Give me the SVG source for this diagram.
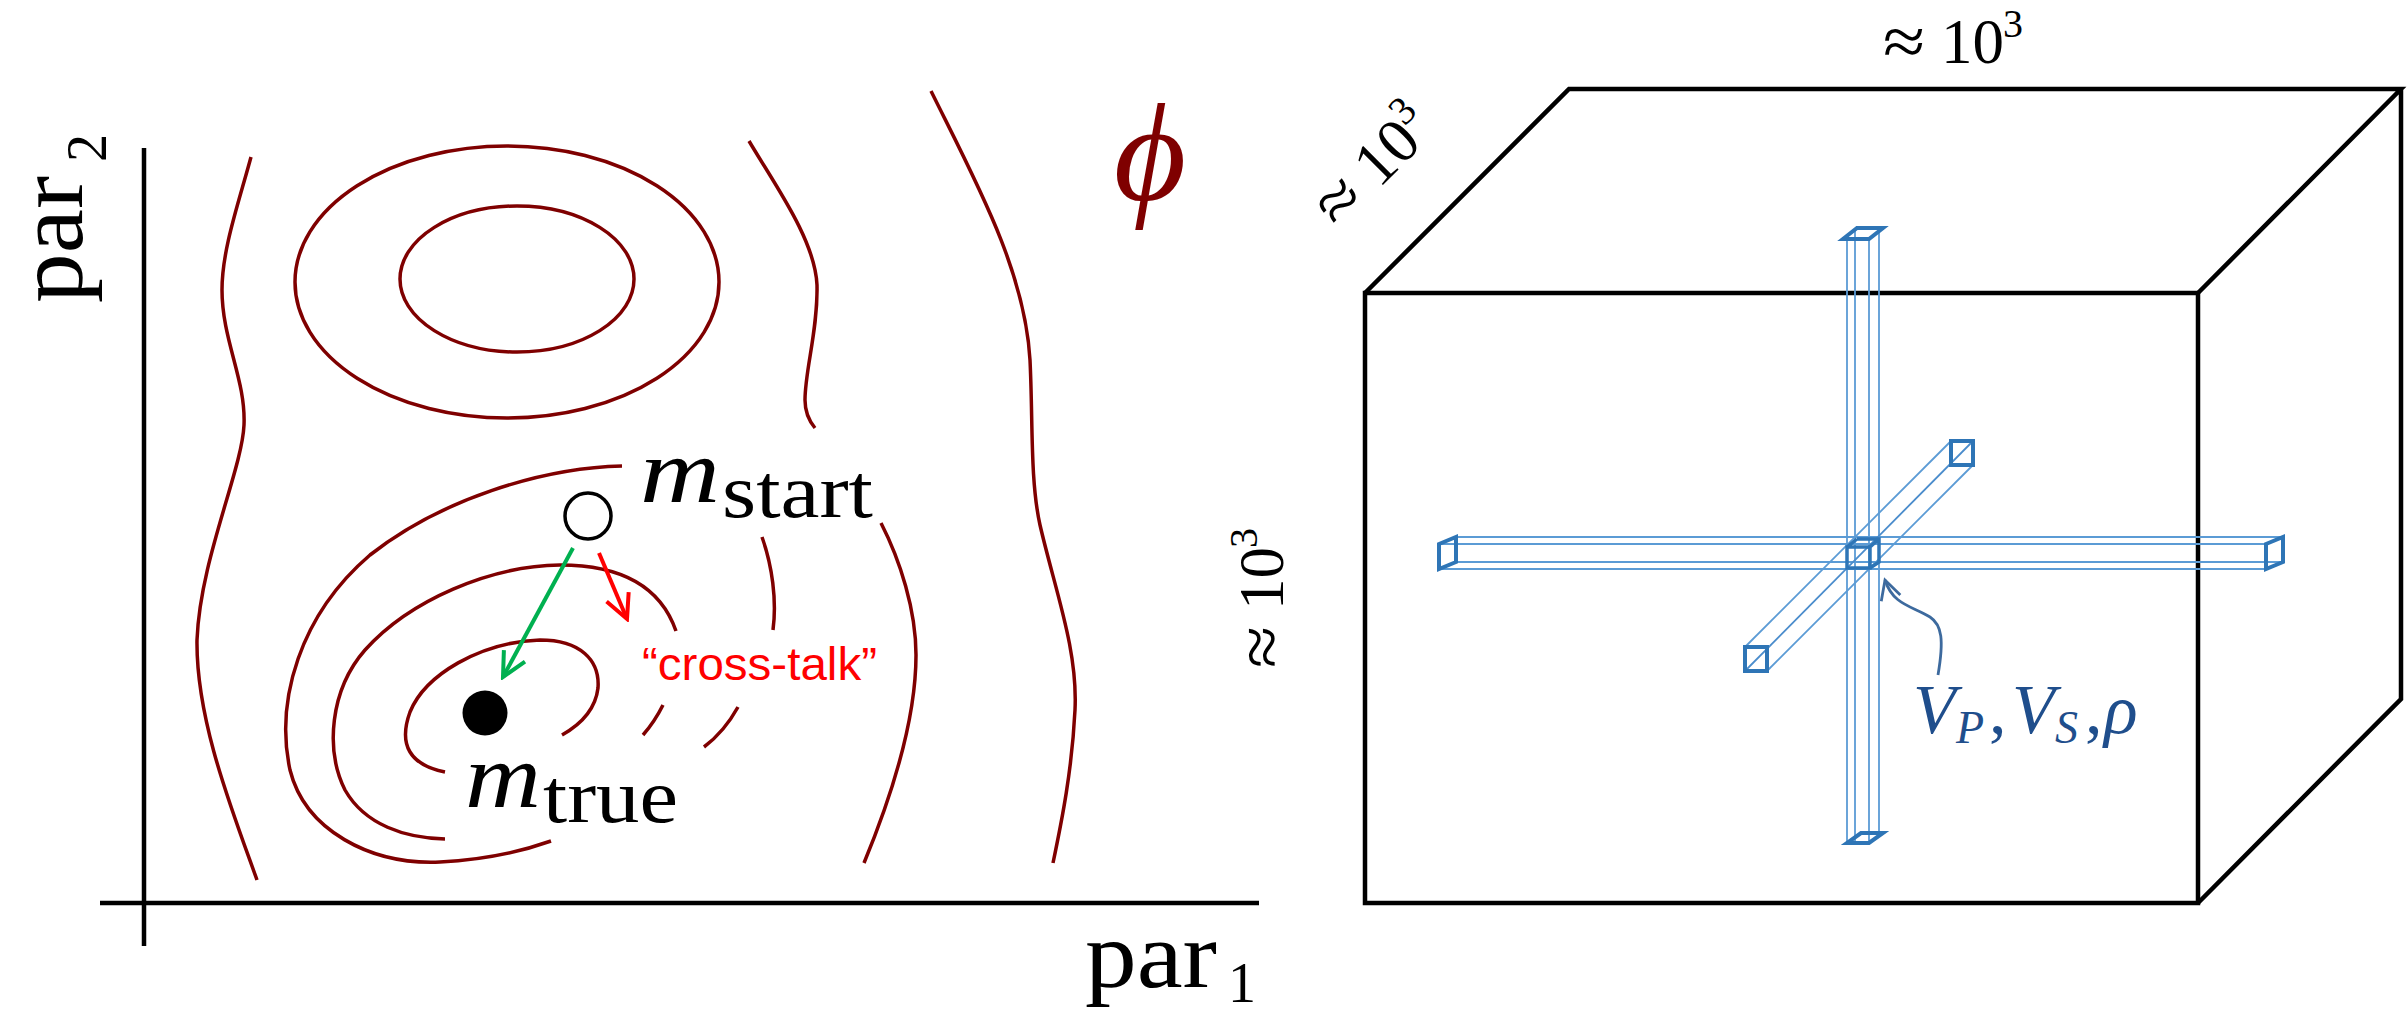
<svg xmlns="http://www.w3.org/2000/svg" width="2407" height="1015" viewBox="0 0 2407 1015">
<style>
.bg{fill:#ffffff}
.axis{stroke:#000;stroke-width:4.5;fill:none}
.contour{stroke:#7f0000;stroke-width:3.5;fill:none;stroke-linecap:butt}
.box{stroke:#000;stroke-width:4.5;fill:none;stroke-linejoin:miter}
.thin{stroke:#5b9bd5;stroke-width:1.8;fill:none}
.cap{stroke:#2e75b6;stroke-width:4;fill:none;stroke-linejoin:miter}
.serif{font-family:"Liberation Serif","DejaVu Serif",serif;fill:#000}
.it{font-style:italic}
.sans{font-family:"Liberation Sans",Arial,sans-serif}
</style>
<defs>
<marker id="headGreen" markerUnits="userSpaceOnUse" markerWidth="30" markerHeight="30" viewBox="0 0 30 30" refX="27" refY="15" orient="auto">
<path d="M3,3 L27,15 L3,27" fill="none" stroke="#00b050" stroke-width="4"/>
</marker>
<marker id="headRed" markerUnits="userSpaceOnUse" markerWidth="30" markerHeight="30" viewBox="0 0 30 30" refX="27" refY="15" orient="auto">
<path d="M3,3 L27,15 L3,27" fill="none" stroke="#ff0000" stroke-width="4"/>
</marker>
<marker id="headBlue" markerUnits="userSpaceOnUse" markerWidth="26" markerHeight="26" viewBox="0 0 26 26" refX="23" refY="13" orient="auto">
<path d="M4,3 L23,13 L4,23" fill="none" stroke="#3d6a9e" stroke-width="2.8"/>
</marker>
<g id="dimLabel">
<text class="serif" x="0" y="2" font-size="70" textLength="42" lengthAdjust="spacingAndGlyphs">≈</text>
<text class="serif" x="58" y="0" font-size="63">10</text>
<text class="serif" x="120" y="-26" font-size="40">3</text>
</g>
</defs>
<rect class="bg" x="0" y="0" width="2407" height="1015"/>

<g id="axes">
<line class="axis" x1="144" y1="148" x2="144" y2="946"/>
<line class="axis" x1="100" y1="903" x2="1259" y2="903"/>
</g>

<g id="axis-labels">
<g id="label-par2" transform="translate(82,303) rotate(-90)">
<text class="serif" x="0" y="0" font-size="96" textLength="127" lengthAdjust="spacingAndGlyphs">par</text>
<text class="serif" x="141" y="24" font-size="56">2</text>
</g>
<g id="label-par1">
<text class="serif" x="1085" y="987" font-size="96" textLength="132" lengthAdjust="spacingAndGlyphs">par</text>
<text class="serif" x="1228" y="1002" font-size="56">1</text>
</g>
</g>

<g id="contours">
<path class="contour" d="M251,157 C238,205 222,250 222,290 C222,340 246,380 244,425 C242,470 200,560 197,640 C196,720 232,810 257,880"/>
<ellipse class="contour" cx="507" cy="282" rx="212" ry="136"/>
<ellipse class="contour" cx="517" cy="279" rx="117" ry="73"/>
<path class="contour" d="M749,141 C775,185 815,240 817,285 C818,330 805,370 805,400 C805,412 810,422 815,428"/>
<path class="contour" d="M931,91 C975,180 1025,270 1030,360 C1033,420 1030,480 1040,525 C1055,590 1078,650 1075,710 C1072,770 1062,820 1053,863"/>
<path class="contour" d="M881,523 C900,560 916,610 916,655 C916,720 890,800 864,863"/>
<path class="contour" d="M622,466 C540,468 440,500 370,555 C300,615 275,700 290,770 C305,830 370,865 440,862 C480,860 520,852 551,841"/>
<path class="contour" d="M762,537 C772,565 777,600 773,630"/>
<path class="contour" d="M738,707 C728,725 716,738 704,747"/>
<path class="contour" d="M676,631 C660,585 620,565 560,565 C490,566 410,600 365,650 C330,690 325,750 345,790 C365,825 405,838 445,839"/>
<path class="contour" d="M663,705 C657,717 650,727 643,735"/>
<path class="contour" d="M445,772 C410,765 398,745 410,712 C425,675 480,642 540,640 C580,640 600,660 598,688 C596,705 585,722 562,735"/>
</g>

<g id="phi">
<text class="serif it" x="1150" y="200" font-size="140" text-anchor="middle" style="fill:#7f0000">ϕ</text>
</g>

<g id="m-start">
<circle cx="588" cy="516" r="23" fill="#fff" stroke="#000" stroke-width="3.5"/>
<text class="serif it" x="640" y="502" font-size="92" textLength="80" lengthAdjust="spacingAndGlyphs">m</text>
<text class="serif" x="722" y="517" font-size="76" textLength="151" lengthAdjust="spacingAndGlyphs">start</text>
</g>

<g id="m-true">
<circle cx="485" cy="713" r="22.5" fill="#000"/>
<text class="serif it" x="465" y="807" font-size="92" textLength="76" lengthAdjust="spacingAndGlyphs">m</text>
<text class="serif" x="543" y="822" font-size="76" textLength="135" lengthAdjust="spacingAndGlyphs">true</text>
</g>

<g id="cross-talk">
<text class="sans" x="642" y="680" font-size="46" fill="#ff0000" textLength="235" lengthAdjust="spacingAndGlyphs">“cross-talk”</text>
</g>

<g id="box">
<rect class="box" x="1365" y="293" width="833" height="610"/>
<path class="box" d="M1365,293 L1569,89 L2401,89 L2198,293 M2401,89 L2401,699 L2198,903"/>
</g>

<g id="box-labels">
<use id="dim-top" href="#dimLabel" transform="translate(1883,63)"/>
<use id="dim-depth" href="#dimLabel" transform="translate(1338,230) rotate(-45)"/>
<use id="dim-height" href="#dimLabel" transform="translate(1283,668) rotate(-90)"/>
</g>

<g id="blue-cross">
<g id="bar-vertical">
<line class="thin" x1="1847" y1="239" x2="1847" y2="843"/>
<line class="thin" x1="1855" y1="228" x2="1855" y2="843"/>
<line class="thin" x1="1869" y1="239" x2="1869" y2="843"/>
<line class="thin" x1="1879" y1="228" x2="1879" y2="833"/>
<path class="cap" d="M1843,239 L1869,239 L1883,228 L1857,228 Z"/>
<path class="cap" d="M1847,843 L1869,843 L1883,833 L1861,833 Z"/>
</g>
<g id="bar-horizontal">
<line class="thin" x1="1439" y1="544" x2="2266" y2="544"/>
<line class="thin" x1="1439" y1="569" x2="2266" y2="569"/>
<line class="thin" x1="1456" y1="537" x2="2283" y2="537"/>
<line class="thin" x1="1456" y1="562" x2="2283" y2="562"/>
<path class="cap" d="M1439,544 L1456,537 L1456,562 L1439,569 Z"/>
<path class="cap" d="M2266,544 L2283,537 L2283,562 L2266,569 Z"/>
</g>
<g id="bar-diagonal">
<line class="thin" x1="1745" y1="647" x2="1951" y2="441"/>
<line class="thin" x1="1745" y1="671" x2="1973" y2="441" style="stroke:#4a8ccc"/>
<line class="thin" x1="1767" y1="671" x2="1973" y2="465"/>
<path class="cap" d="M1745,647 L1767,647 L1767,671 L1745,671 Z"/>
<path class="cap" d="M1951,441 L1973,441 L1973,465 L1951,465 Z"/>
</g>
<g id="center-cell">
<path class="cap" d="M1847,547 L1870,547 L1870,568 L1847,568 Z M1857,539 L1879,539 L1879,562 L1870,568 M1847,547 L1857,539 M1870,547 L1879,539" style="stroke-width:3.5"/>
</g>
</g>

<g id="vp-label">
<text class="serif it" font-size="70" style="fill:#1f4e8c"><tspan x="1913" y="733">V</tspan><tspan x="1956" y="743" font-size="46">P</tspan><tspan x="1989" y="733" font-style="normal">,</tspan><tspan x="2012" y="733">V</tspan><tspan x="2055" y="743" font-size="46">S</tspan><tspan x="2085" y="733" font-style="normal">,</tspan><tspan x="2104" y="733">ρ</tspan></text>
</g>

<g id="connectors">
<line x1="573" y1="548" x2="503" y2="677" stroke="#00b050" stroke-width="4" marker-end="url(#headGreen)"/>
<line x1="599" y1="553" x2="627" y2="619" stroke="#ff0000" stroke-width="4" marker-end="url(#headRed)"/>
<path d="M1938,675 C1944,640 1942,625 1930,617 C1912,606 1893,605 1885,580" fill="none" stroke="#3d6a9e" stroke-width="2.8" marker-end="url(#headBlue)"/>
</g>
</svg>
